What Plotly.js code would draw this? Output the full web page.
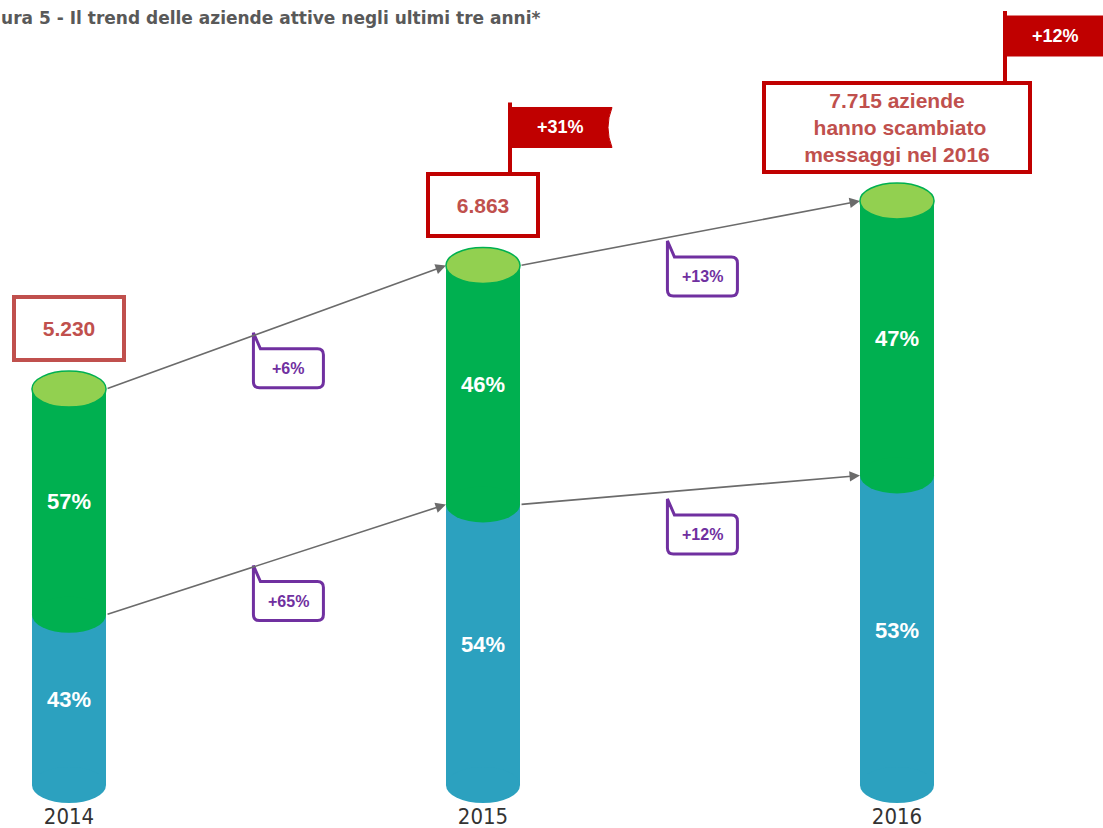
<!DOCTYPE html>
<html>
<head>
<meta charset="utf-8">
<script src="https://cdn.plot.ly/plotly-3.0.1.min.js"></script>
<style>html,body{margin:0;padding:0;background:#fff;}#chart{width:1103px;height:828px;}</style>
</head>
<body>
<div id="chart"></div>
<script>
// ---- data ----
const years = ['2014', '2015', '2016'];
const totals = [5230, 6863, 7715];
const bluePct = [43, 54, 53];
const greenPct = [57, 46, 47];
const totalGrowth = ['+31%', '+12%'];      // 2014->2015, 2015->2016
const greenGrowth = ['+6%', '+13%'];       // top arrows
const blueGrowth = ['+65%', '+12%'];       // lower arrows
const titleText = 'ura 5 - Il trend delle aziende attive negli ultimi tre anni*';
const lastBoxSuffix = ' aziende<br> hanno scambiato<br>messaggi nel 2016';

// ---- styles ----
const BLUE = '#2CA1BF', GREEN = '#00B050', LIGHTGREEN = '#92D050';
const RED = '#C00000', REDTXT = '#C0504D', PURPLE = '#7030A0';
const BW = 0.179;           // bar width (x units)
const RY = 18;              // ellipse half-height px
const xs = years.map((_, i) => i);
const blueVals = totals.map((t, i) => t * bluePct[i] / 100);
const greenVals = totals.map((t, i) => t * greenPct[i] / 100);
const fmt = v => Math.floor(v / 1000) + '.' + String(v % 1000).padStart(3, '0');
const PX = 7715 / 584;      // data units per pixel
const BASE_PX = 43;         // pixels below zero line

const barFont = {family: 'Liberation Sans, Arial, sans-serif', size: 22, color: '#fff', weight: 'bold'};
const traces = [
  {type: 'bar', x: xs, y: blueVals, width: BW, marker: {color: BLUE},
   text: bluePct.map(p => p + '%'), textposition: 'inside', insidetextanchor: 'middle',
   textangle: 0, insidetextfont: barFont, hoverinfo: 'skip', showlegend: false},
  {type: 'bar', x: xs, y: greenVals, width: BW, marker: {color: GREEN},
   text: greenPct.map(p => p + '%'), textposition: 'inside', insidetextanchor: 'middle',
   textangle: 0, insidetextfont: barFont, hoverinfo: 'skip', showlegend: false}
];

const shapes = [];
const annotations = [];

function ellipse(i, yv, fill, line) {
  shapes.push({type: 'circle', xref: 'x', yref: 'y', x0: i - BW / 2, x1: i + BW / 2,
    ysizemode: 'pixel', yanchor: yv, y0: -RY, y1: RY, fillcolor: fill,
    line: line || {width: 0}, layer: 'above'});
}
xs.forEach(i => {
  ellipse(i, 0, BLUE);
  ellipse(i, blueVals[i], GREEN);
  ellipse(i, totals[i], LIGHTGREEN, {color: GREEN, width: 1.5});
});

// arrows + purple callouts
function arrowAndCallout(i, yFrom, yTo, label) {
  const xt = i + BW / 2, xh = i + 1 - BW / 2;
  annotations.push({x: xh, y: yTo, ax: xt, ay: yFrom, xref: 'x', yref: 'y', axref: 'x', ayref: 'y',
    text: '', showarrow: true, arrowhead: 2, arrowsize: 1.3, arrowwidth: 1.6, arrowcolor: '#6B6B6B', standoff: 0});
  const xc = i + 0.53;
  const yc = yFrom + (yTo - yFrom) * (xc - xt) / (xh - xt);
  shapes.push({type: 'path', xref: 'x', yref: 'y', xsizemode: 'pixel', ysizemode: 'pixel',
    xanchor: xc, yanchor: yc,
    path: 'M -35,-10 L -35,-59 Q -35,-65 -29,-65 L 29,-65 Q 35,-65 35,-59 L 35,-32 Q 35,-26 29,-26 L -28,-26 Z',
    fillcolor: '#fff', line: {color: PURPLE, width: 3}, layer: 'above'});
  annotations.push({x: xc, y: yc, xref: 'x', yref: 'y', yshift: -46, showarrow: false, text: label,
    font: {family: 'Liberation Sans, Arial, sans-serif', size: 16, color: PURPLE, weight: 'bold'}});
}
for (let i = 0; i < 2; i++) {
  arrowAndCallout(i, totals[i], totals[i + 1], greenGrowth[i]);
  arrowAndCallout(i, blueVals[i], blueVals[i + 1], blueGrowth[i]);
}

// red value boxes + flags
const boxW = [114, 114, 270], boxH = [67, 66, 93], boxLine = [REDTXT, RED, RED];
xs.forEach(i => {
  const txt = i === 2 ? fmt(totals[i]) + lastBoxSuffix : fmt(totals[i]);
  annotations.push({x: i, y: totals[i], xref: 'x', yref: 'y', yanchor: 'bottom', yshift: 27,
    showarrow: false, text: txt, width: boxW[i] - 10, height: boxH[i] - 10,
    bordercolor: boxLine[i], borderwidth: 4, borderpad: 1, bgcolor: '#fff',
    font: {family: 'Liberation Sans, Arial, sans-serif', size: 21, color: REDTXT, weight: 'bold'}});
  if (i > 0) {
    const px = boxW[i] / 2 - 30 + (i === 2 ? 3 : 0);
    const top = 27 + boxH[i];
    shapes.push({type: 'line', xref: 'x', yref: 'y', xsizemode: 'pixel', ysizemode: 'pixel',
      xanchor: i, yanchor: totals[i], x0: px, x1: px, y0: top - 2, y1: top + 70,
      line: {color: RED, width: 4}, layer: 'above'});
    shapes.push({type: 'path', xref: 'x', yref: 'y', xsizemode: 'pixel', ysizemode: 'pixel',
      xanchor: i, yanchor: totals[i],
      path: `M ${px},${top + 65} L ${px + 102},${top + 65} Q ${px + 94},${top + 45} ${px + 102},${top + 25} L ${px},${top + 25} Z`,
      fillcolor: RED, line: {color: RED, width: 1}, layer: 'above'});
    annotations.push({x: i, y: totals[i], xref: 'x', yref: 'y', xshift: px + 50, yshift: top + 45,
      showarrow: false, text: totalGrowth[i - 1],
      font: {family: 'Liberation Sans, Arial, sans-serif', size: 18, color: '#fff', weight: 'bold'}});
  }
});

const layout = {
  width: 1103, height: 828,
  margin: {l: 0, r: 0, t: 0, b: 0},
  paper_bgcolor: '#fff', plot_bgcolor: '#fff',
  barmode: 'stack',
  title: {text: titleText, x: 0.001, xref: 'container', xanchor: 'left', y: 1 - 18 / 828, yref: 'container', yanchor: 'middle',
    font: {family: 'DejaVu Sans, sans-serif', size: 17, color: '#595959', weight: 'bold'}},
  xaxis: {range: [-69 / 414, -69 / 414 + 1103 / 414], tickvals: xs, ticktext: years, showgrid: false, zeroline: false,
    showline: false, ticks: '', ticklabelstandoff: 16, automargin: false,
    anchor: 'free', position: BASE_PX / 828,
    tickfont: {family: 'Liberation Sans Narrow, DejaVu Sans Condensed, Arial Narrow, sans-serif', size: 22, color: '#333'}},
  yaxis: {range: [-BASE_PX * PX, (828 - BASE_PX) * PX], visible: false, showgrid: false, zeroline: false, fixedrange: true},
  shapes: shapes,
  annotations: annotations,
  showlegend: false
};
Plotly.newPlot('chart', traces, layout, {displayModeBar: false, staticPlot: true});
</script>
</body>
</html>
